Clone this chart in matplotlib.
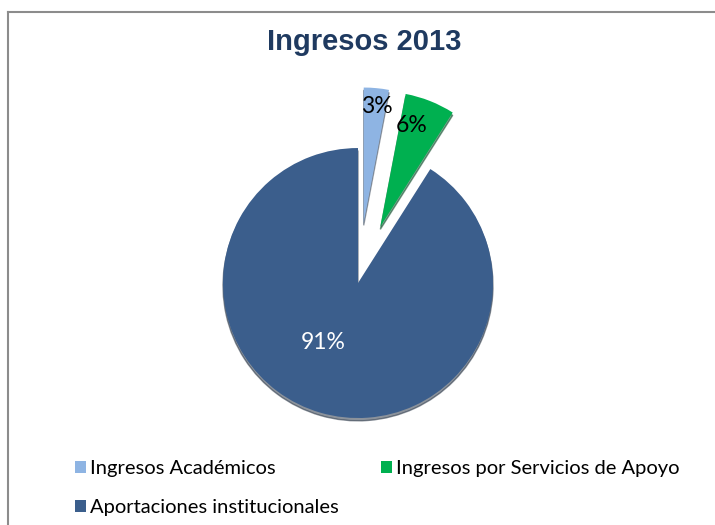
import matplotlib.pyplot as plt
from matplotlib.patches import Patch
from matplotlib.lines import Line2D

categories = ['Ingresos Académicos', 'Ingresos por Servicios de Apoyo', 'Aportaciones institucionales']
values = [3, 6, 91]
colors = ['#8EB4E3', '#00B050', '#3B5E8C']
explode = [0.45, 0.45, 0]

fig = plt.figure(figsize=(7.15, 5.25), dpi=100)

# frame of the chart area (top and left edges visible)
fig.add_artist(Line2D([8 / 715, 1], [1 - 12 / 525, 1 - 12 / 525], color='#8C8C8C', lw=1.5))
fig.add_artist(Line2D([8 / 715, 8 / 715], [0, 1 - 12 / 525], color='#8C8C8C', lw=1.5))

fig.text(364 / 715, 1 - 42 / 525, 'Ingresos 2013', ha='center', va='center',
         fontsize=21, fontweight='bold', family='Liberation Sans', color='#1F3A60')

ax = fig.add_axes([0.2175, 0.0752, 0.5664, 0.7714])
wedges, texts, autotexts = ax.pie(
    values, colors=colors, explode=explode, startangle=90, counterclock=False,
    autopct='%1.0f%%', pctdistance=0.46,
    shadow={'ox': 0.0, 'oy': -0.015, 'shade': 0.6},
    textprops={'family': 'Lato', 'fontsize': 16.5})
ax.set_aspect('auto')
ax.set_xlim(-1.5, 1.5)
ax.set_ylim(-1.5, 1.5)

autotexts[0].set_position((0.14, 1.31))
autotexts[1].set_position((0.40, 1.17))
autotexts[2].set_position((-0.26, -0.44))
autotexts[0].set_color('black')
autotexts[1].set_color('black')
autotexts[2].set_color('white')

order = [0, 2, 1]
handles = [Patch(facecolor=colors[i], edgecolor='none') for i in order]
fig.legend(handles, [categories[i] for i in order], ncol=2, loc='upper left',
           bbox_to_anchor=(57 / 715, 1 - 442 / 525), frameon=False,
           prop={'family': 'Lato', 'size': 14.5}, handlelength=0.55, handleheight=0.55,
           handletextpad=0.2, columnspacing=2.1, labelspacing=1.1)

fig.savefig('out.png', dpi=100)
